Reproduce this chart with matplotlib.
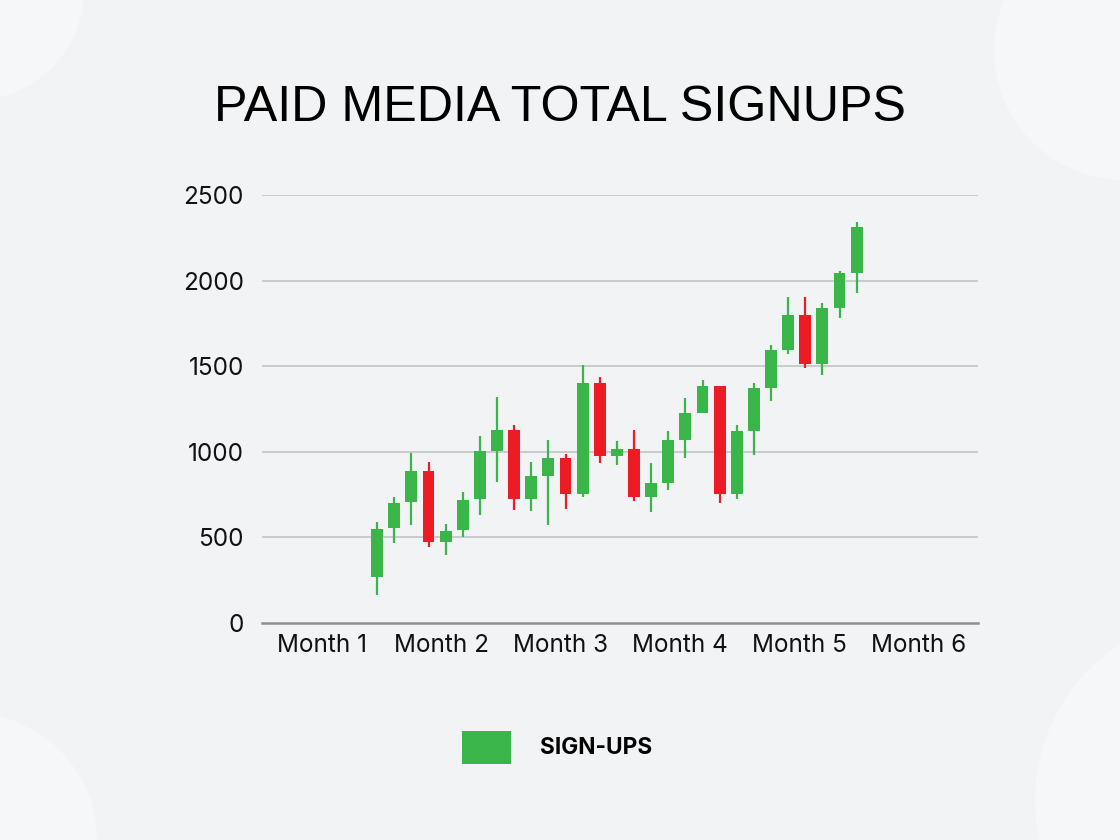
import matplotlib.pyplot as plt
from matplotlib.patches import Circle, Rectangle

# candle values (one candle per step)
opens = [270, 555, 705, 885, 475, 545, 725, 1005, 1125, 725, 860, 965, 755, 1400, 975,
         1015, 735, 820, 1070, 1225, 1385, 755, 1120, 1375, 1595, 1800, 1515, 1840, 2045]
closes = [550, 700, 885, 475, 540, 720, 1005, 1125, 725, 860, 965, 755, 1400, 975, 1015,
          735, 815, 1070, 1225, 1385, 755, 1120, 1375, 1595, 1800, 1515, 1840, 2045, 2315]
highs = [590, 735, 995, 940, 580, 765, 1090, 1320, 1155, 940, 1070, 985, 1505, 1435, 1065,
         1125, 935, 1120, 1315, 1420, 1385, 1155, 1400, 1625, 1905, 1905, 1870, 2055, 2340]
lows = [165, 470, 575, 445, 400, 500, 630, 825, 660, 655, 575, 665, 735, 935, 920,
        710, 650, 775, 965, 1225, 700, 725, 980, 1295, 1570, 1490, 1450, 1780, 1925]
months = ['Month 1', 'Month 2', 'Month 3', 'Month 4', 'Month 5', 'Month 6']
y_ticks = [0, 500, 1000, 1500, 2000, 2500]

GREEN = '#3AB54A'
RED = '#ED1C24'
BG = '#F2F3F5'

fig = plt.figure(figsize=(11.2, 8.4), dpi=100)
fig.patch.set_facecolor(BG)

# soft circles in the corners (pixel centre x, y from top, radius)
for cx, cy, r in [(-26, -10, 110), (1124, 50, 130), (-30, 840, 127), (1220, 800, 185)]:
    fig.patches.append(Circle((cx / 100, (840 - cy) / 100), r / 100, facecolor='#F6F7F9',
                              edgecolor='none', transform=fig.dpi_scale_trans, zorder=0))

ax = fig.add_axes([262 / 1120, 1 - 623 / 840, 716 / 1120, 428 / 840])
ax.set_facecolor('none')

first, step = 0.465, 0.1435
body_w = 0.1
for i in range(len(opens)):
    x = first + i * step
    col = GREEN if closes[i] >= opens[i] else RED
    ax.plot([x, x], [lows[i], highs[i]], color=col, lw=1.6, solid_capstyle='butt', zorder=3)
    lo = min(opens[i], closes[i])
    ax.add_patch(Rectangle((x - body_w / 2, lo), body_w, abs(closes[i] - opens[i]),
                           facecolor=col, edgecolor='none', zorder=4))

ax.set_xlim(-0.5, 5.5)
ax.set_ylim(0, 2500)
ax.set_xticks(range(len(months)))
ax.set_xticklabels(months)
ax.set_yticks(y_ticks)
ax.set_yticklabels([str(v) for v in y_ticks])
for v in y_ticks[1:]:
    ax.axhline(v, color='#C4C4C4', lw=1.2, zorder=1)
ax.axhline(0, color='#8E8E8E', lw=1.8, zorder=2, clip_on=False)

for s in ax.spines.values():
    s.set_visible(False)
ax.tick_params(axis='both', length=0, labelsize=17.5, labelcolor='#111111')
ax.tick_params(axis='x', pad=8)
ax.tick_params(axis='y', pad=13)
for lab in ax.get_xticklabels() + ax.get_yticklabels():
    lab.set_family('Inter')

fig.text(0.5, 1 - 108 / 840, 'PAID MEDIA TOTAL SIGNUPS', ha='center', va='center',
         fontsize=36.2, family='Liberation Sans', color='#000000')

# legend
fig.patches.append(Rectangle((462 / 1120, 1 - 764 / 840), 49 / 1120, 33 / 840,
                             facecolor=GREEN, edgecolor='none', transform=fig.transFigure))
fig.text(540 / 1120, 1 - 748 / 840, 'SIGN-UPS', ha='left', va='center', fontsize=16.3,
         fontweight='bold', family='Inter', color='#000000')

fig.savefig('out.png', dpi=100, facecolor=BG)
